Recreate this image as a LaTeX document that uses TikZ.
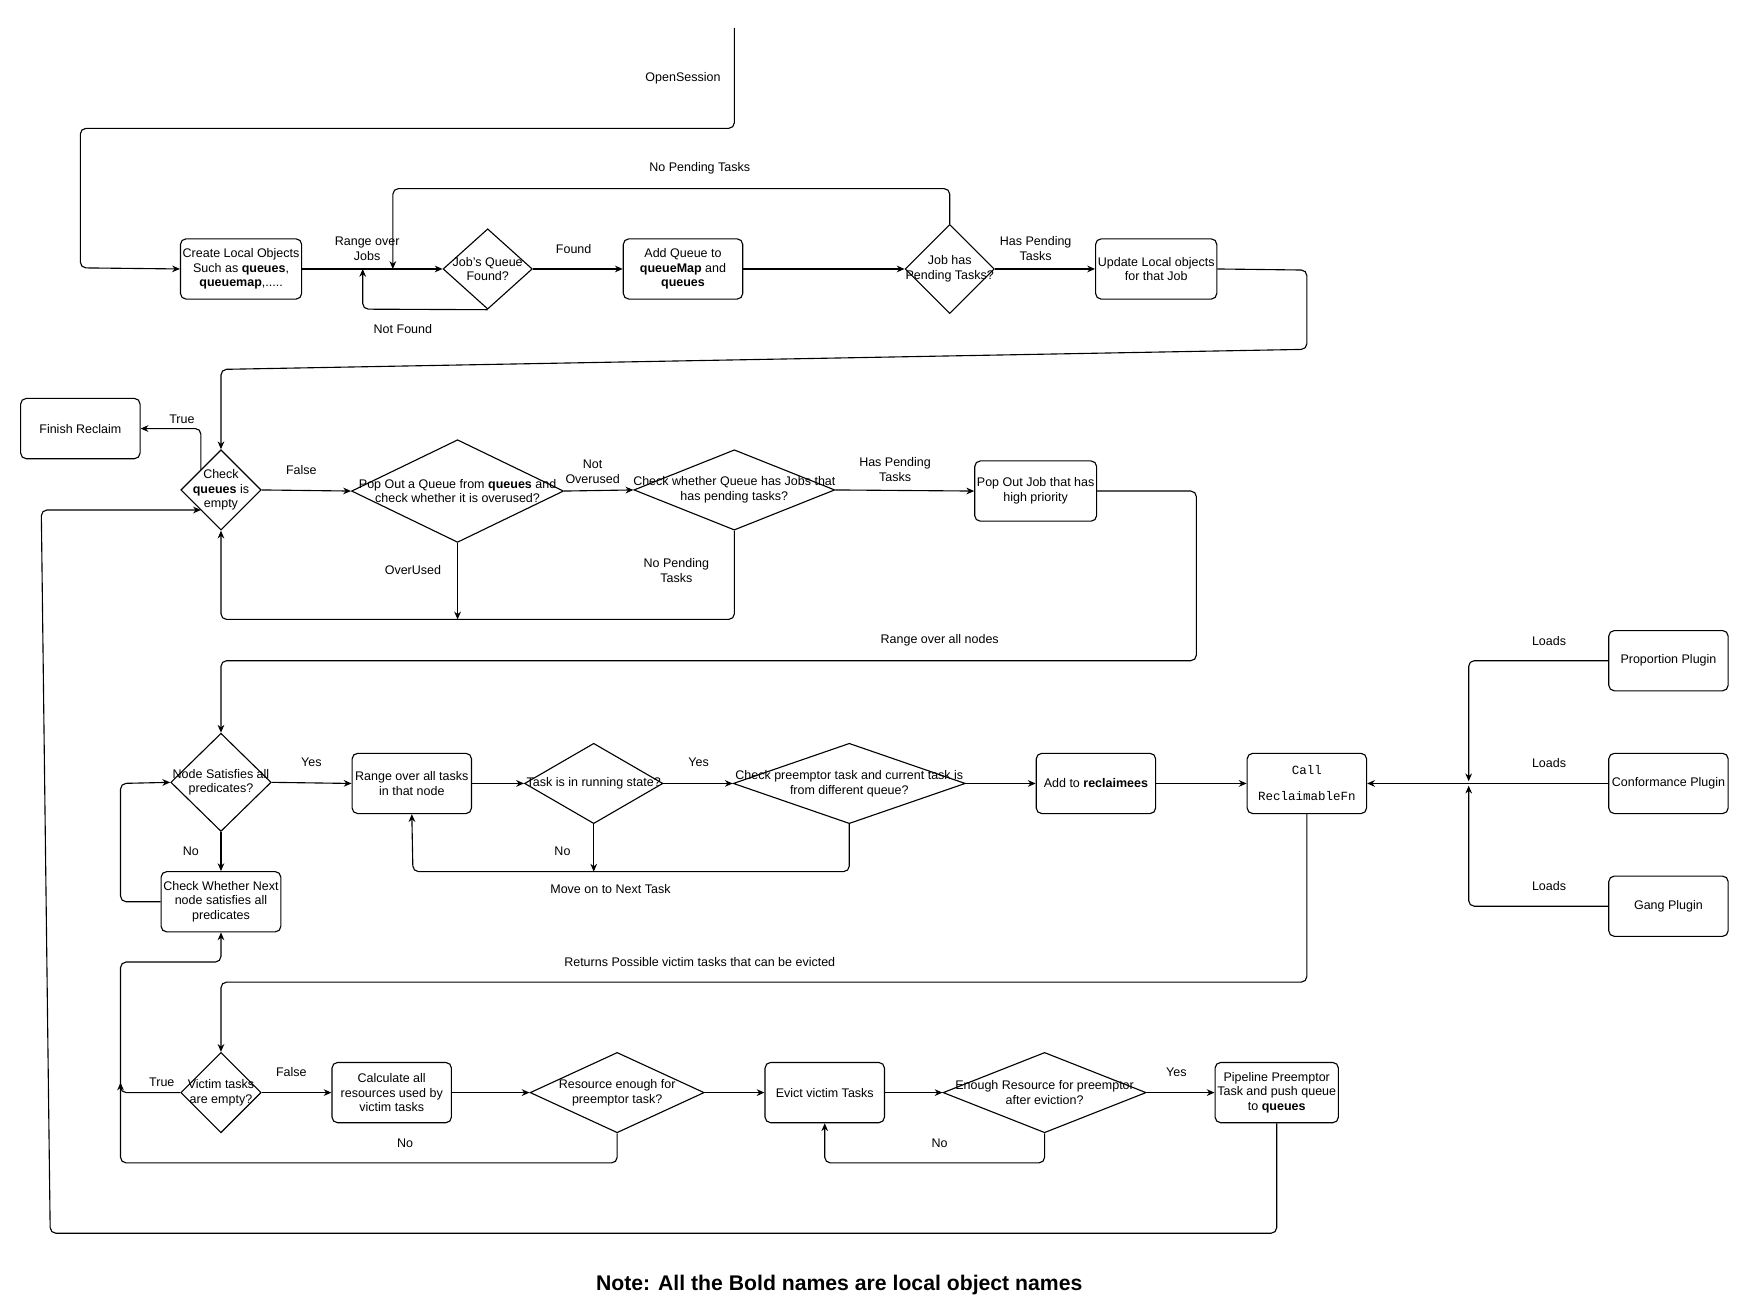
\documentclass[tikz,border=0pt]{standalone}
\usepackage{fontspec}
\setmainfont{Liberation Sans}
\setmonofont{Liberation Mono}
\usetikzlibrary{shapes.geometric,arrows.meta}
\begin{document}
\begin{tikzpicture}[x=0.5pt,y=-0.5pt,
  every node/.style={font=\fontsize{5.6pt}{6.6pt}\selectfont,align=center},
  box/.style={draw,rounded corners=2.5pt,minimum width=53.5pt,minimum height=27pt,inner sep=1pt,line width=0.5pt},
  dia/.style={draw,diamond,inner sep=0pt,line width=0.5pt},
  lbl/.style={inner sep=0pt},
  ar/.style={-{Stealth[length=3.5pt,width=3pt]},line width=0.5pt,rounded corners=2.5pt},
  ln/.style={line width=0.5pt,rounded corners=2.5pt}]
\useasboundingbox (0,0) rectangle (1560,1173);
% row 1
\node[box] (create) at (216,241) {Create Local Objects\\Such as \textbf{queues},\\\textbf{queuemap},.....};
\node[dia,minimum width=40pt,minimum height=36pt,label={center:Job's Queue\\Found?}] (jq) at (437,241) {};
\node[box] (addq) at (612,241) {Add Queue to\\\textbf{queueMap} and\\\textbf{queues}};
\node[dia,minimum width=40pt,minimum height=40pt,label={center:Job has\\Pending Tasks?}] (jp) at (851,241) {};
\node[box] (upd) at (1036,241) {Update Local objects\\for that Job};
% row 2
\node[box] (finish) at (72,384) {Finish Reclaim};
\node[dia,minimum width=36pt,minimum height=36pt,label={center:Check\\\textbf{queues} is\\empty}] (cq) at (198,439) {};
\node[dia,minimum width=95pt,minimum height=46pt,label={center:Pop Out a Queue from \textbf{queues} and\\check whether it is overused?}] (pop) at (410,440) {};
\node[dia,minimum width=90pt,minimum height=36pt,label={center:Check whether Queue has Jobs that\\has pending tasks?}] (chk) at (658,439) {};
\node[box] (popjob) at (928,440) {Pop Out Job that has\\high priority};
% row 3
\node[dia,minimum width=45pt,minimum height=44pt,label={center:Node Satisfies all\\predicates?}] (ns) at (198,701) {};
\node[box] (range) at (369,702) {Range over all tasks\\in that node};
\node[dia,minimum width=62pt,minimum height=36pt,label={center:Task is in running state?}] (run) at (532,702) {};
\node[dia,minimum width=104pt,minimum height=36pt,label={center:Check preemptor task and current task is\\from different queue?}] (prem) at (761,702) {};
\node[box] (addrec) at (982,702) {Add to \textbf{reclaimees}};
\node[box] (call) at (1171,702) {\texttt{Call}\\[5pt]\texttt{ReclaimableFn}};
\node[box] (prop) at (1495,592) {Proportion Plugin};
\node[box] (conf) at (1495,702) {Conformance Plugin};
\node[box] (gang) at (1495,812) {Gang Plugin};
\node[box] (next) at (198,808) {Check Whether Next\\node satisfies all\\predicates};
% row 4
\node[dia,minimum width=36pt,minimum height=36pt,label={center:Victim tasks\\are empty?}] (vt) at (198,979) {};
\node[box] (calc) at (351,979) {Calculate all\\resources used by\\victim tasks};
\node[dia,minimum width=78pt,minimum height=36pt,label={center:Resource enough for\\preemptor task?}] (res) at (553,979) {};
\node[box] (evict) at (739,979) {Evict victim Tasks};
\node[dia,minimum width=91pt,minimum height=36pt,label={center:Enough Resource for preemptor\\after eviction?}] (enough) at (936,979) {};
\node[box] (pipe) at (1144,979) {Pipeline Preemptor\\Task and push queue\\to \textbf{queues}};
\node[lbl,font=\bfseries\fontsize{9.5pt}{11pt}\selectfont] (note) at (752,1151) {Note: All the Bold names are local object names};
% labels
\node[lbl] at (612,70) {OpenSession};
\node[lbl] at (329,223) {Range over\\Jobs};
\node[lbl] at (361,295) {Not Found};
\node[lbl] at (514,223) {Found};
\node[lbl] at (627,151) {No Pending Tasks};
\node[lbl] at (928,223) {Has Pending\\Tasks};
\node[lbl] at (163,376) {True};
\node[lbl] at (270,421) {False};
\node[lbl] at (531,423) {Not\\Overused};
\node[lbl] at (370,511) {OverUsed};
\node[lbl] at (606,511) {No Pending\\Tasks};
\node[lbl] at (802,421) {Has Pending\\Tasks};
\node[lbl] at (842,574) {Range over all nodes};
\node[lbl] at (279,683) {Yes};
\node[lbl] at (171,763) {No};
\node[lbl] at (626,683) {Yes};
\node[lbl] at (504,763) {No};
\node[lbl] at (547,797) {Move on to Next Task};
\node[lbl] at (1388,574) {Loads};
\node[lbl] at (1388,684) {Loads};
\node[lbl] at (1388,794) {Loads};
\node[lbl] at (627,862) {Returns Possible victim tasks that can be evicted};
\node[lbl] at (145,970) {True};
\node[lbl] at (261,961) {False};
\node[lbl] at (363,1024) {No};
\node[lbl] at (1054,961) {Yes};
\node[lbl] at (842,1024) {No};
% coordinates
\coordinate (start) at (658,25);
\coordinate (ov) at (410,555);
\coordinate (noRun) at (532,781);
\coordinate (nf) at (325,241);
\coordinate (np) at (352,241);
\coordinate (hub) at (1316,702);
\coordinate (hubA) at (1316,700);
\coordinate (hubB) at (1316,704);
\coordinate (up108) at (108,970);
% edges
\draw[ar] (start) -- (658,115) -- (72,115) -- (72,240) -- (create.west);
\draw[ar] (create.east) -- (jq.west);
\draw[ar] (jq.south) -- (325,277) -- (nf);
\draw[ar] (jq.east) -- (addq.west);
\draw[ar] (addq.east) -- (jp.west);
\draw[ar] (jp.north) -- (851,169) -- (352,169) -- (np);
\draw[ar] (jp.east) -- (upd.west);
\draw[ar] (upd.east) -- (1171,242) -- (1171,313) -- (198,331) -- (cq.north);
\draw[ar] (180,421) -- (180,384) -- (finish.east);
\draw[ar] (cq.east) -- (pop.west);
\draw[ar] (pop.east) -- (chk.west);
\draw[ar] (pop.south) -- (ov);
\draw[ar] (chk.south) -- (658,555) -- (198,555) -- (cq.south);
\draw[ar] (chk.east) -- (popjob.west);
\draw[ar] (popjob.east) -- (1072,440) -- (1072,592) -- (198,592) -- (ns.north);
\draw[ar] (ns.east) -- (range.west);
\draw[ar] (ns.south) -- (next.north);
\draw[ar] (next.west) -- (108,808) -- (108,702) -- (ns.west);
\draw[ar] (range.east) -- (run.west);
\draw[ar] (run.east) -- (prem.west);
\draw[ar] (run.south) -- (noRun);
\draw[ar] (prem.south) -- (761,781) -- (370,781) -- (range.south);
\draw[ar] (prem.east) -- (addrec.west);
\draw[ar] (addrec.east) -- (call.west);
\draw[ar] (conf.west) -- (call.east);
\draw[ar] (prop.west) -- (1316,592) -- (hubA);
\draw[ar] (gang.west) -- (1316,812) -- (hubB);
\draw[ar] (call.south) -- (1171,880) -- (198,880) -- (vt.north);
\draw[ar] (vt.west) -- (108,979) -- (108,862) -- (198,862) -- (next.south);
\draw[ar] (res.south) -- (553,1042) -- (108,1042) -- (up108);
\draw[ar] (vt.east) -- (calc.west);
\draw[ar] (calc.east) -- (res.west);
\draw[ar] (res.east) -- (evict.west);
\draw[ar] (evict.east) -- (enough.west);
\draw[ar] (enough.east) -- (pipe.west);
\draw[ar] (enough.south) -- (936,1042) -- (739,1042) -- (evict.south);
\draw[ar] (pipe.south) -- (1144,1105) -- (45,1105) -- (37,457) -- (180,457);
\end{tikzpicture}
\end{document}
